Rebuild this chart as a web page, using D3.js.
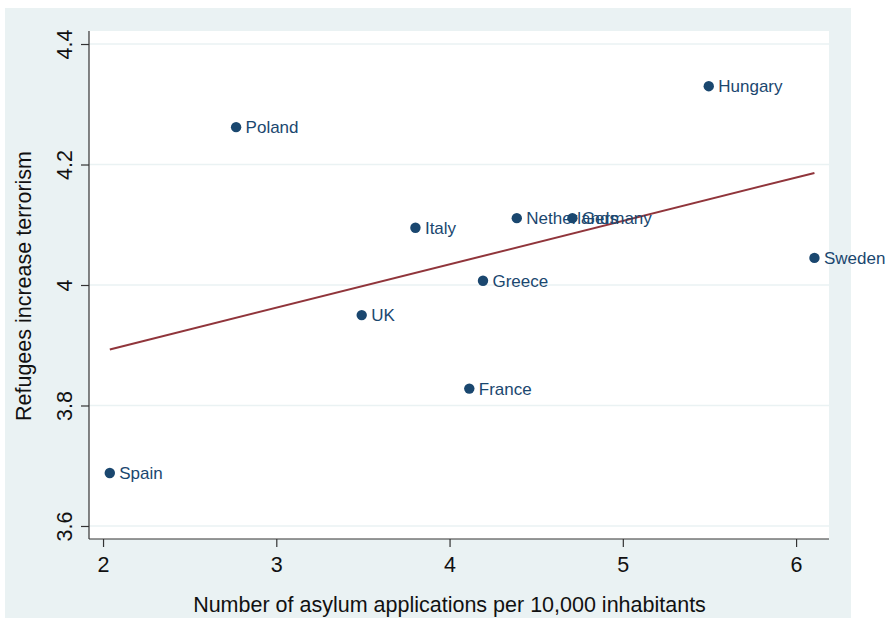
<!DOCTYPE html>
<html>
<head>
<meta charset="utf-8">
<script src="https://cdn.jsdelivr.net/npm/d3@7"></script>
<style>
  html, body { margin: 0; padding: 0; background: #ffffff; }
  svg { display: block; }
  text { font-family: "Liberation Sans", Arial, sans-serif; }
</style>
</head>
<body>
<svg id="chart" width="887" height="620"></svg>
<script>
// ---- data ----
const countries = ["Poland", "Hungary", "Italy", "Netherlands", "Germany", "Greece", "UK", "France", "Spain", "Sweden"];
const asylumApps = [2.768, 5.496, 3.803, 4.388, 4.709, 4.193, 3.493, 4.114, 2.039, 6.106];
const terrorism  = [4.262, 4.330, 4.095, 4.111, 4.111, 4.007, 3.950, 3.828, 3.688, 4.045];
const fitX = [2.039, 6.106];
const fitY = [3.893, 4.186];
const xTicks = [2, 3, 4, 5, 6];
const yTicks = [3.6, 3.8, 4.0, 4.2, 4.4];
const yTickLabels = ["3.6", "3.8", "4", "4.2", "4.4"];
const xTitle = "Number of asylum applications per 10,000 inhabitants";
const yTitle = "Refugees increase terrorism";

// ---- layout ----
const svg = d3.select("#chart");
const bg = "#eaf2f3";
const navy = "#1a476f";
const maroon = "#90353b";
const plot = { left: 89, right: 829, top: 31, bottom: 539 };

svg.append("rect").attr("x", 5).attr("y", 8).attr("width", 846).attr("height", 610).attr("fill", bg);
svg.append("rect").attr("x", plot.left).attr("y", plot.top)
  .attr("width", plot.right - plot.left).attr("height", plot.bottom - plot.top).attr("fill", "#ffffff");

const x = d3.scaleLinear().domain([1.919, 6.190]).range([plot.left, plot.right]);
const y = d3.scaleLinear().domain([3.5784, 4.4216]).range([plot.bottom, plot.top]);

// grid lines
svg.append("g").selectAll("line").data(yTicks).join("line")
  .attr("x1", plot.left).attr("x2", plot.right)
  .attr("y1", d => y(d)).attr("y2", d => y(d))
  .attr("stroke", bg).attr("stroke-width", 1.6);

// y axis
const yAxis = d3.axisLeft(y).tickValues(yTicks).tickSize(8).tickFormat((d, i) => yTickLabels[i]);
const gy = svg.append("g").attr("transform", `translate(${plot.left},0)`).call(yAxis);
gy.select(".domain").attr("d", `M0,${plot.top}V${plot.bottom}`).attr("stroke", "#333").attr("stroke-width", 1.2);
gy.selectAll(".tick line").attr("stroke", "#333").attr("stroke-width", 1.2);
gy.selectAll(".tick text")
  .attr("x", null).attr("dy", null)
  .attr("transform", "translate(-17,0) rotate(-90)")
  .attr("text-anchor", "middle")
  .attr("font-size", 21.5).attr("fill", "#111")
  .attr("font-family", "Liberation Sans, Arial, sans-serif");

// x axis
const xAxis = d3.axisBottom(x).tickValues(xTicks).tickSize(8).tickFormat(d3.format("d"));
const gx = svg.append("g").attr("transform", `translate(0,${plot.bottom})`).call(xAxis);
gx.select(".domain").attr("d", `M${plot.left},0H${plot.right}`).attr("stroke", "#333").attr("stroke-width", 1.2);
gx.selectAll(".tick line").attr("stroke", "#333").attr("stroke-width", 1.2);
gx.selectAll(".tick text")
  .attr("y", 33).attr("dy", null)
  .attr("font-size", 21.5).attr("fill", "#111")
  .attr("font-family", "Liberation Sans, Arial, sans-serif");

// axis titles
svg.append("text").attr("x", 449.5).attr("y", 612).attr("text-anchor", "middle")
  .attr("font-size", 21.5).attr("fill", "#111").text(xTitle);
svg.append("text").attr("transform", "translate(31,286) rotate(-90)").attr("text-anchor", "middle")
  .attr("font-size", 21.5).attr("fill", "#111").text(yTitle);

// fit line
const fitData = fitX.map((d, i) => [d, fitY[i]]);
svg.append("path").datum(fitData)
  .attr("d", d3.line().x(d => x(d[0])).y(d => y(d[1])))
  .attr("fill", "none").attr("stroke", maroon).attr("stroke-width", 2);

// points
const pts = countries.map((c, i) => ({ c, x: asylumApps[i], y: terrorism[i] }));
svg.append("g").selectAll("circle").data(pts).join("circle")
  .attr("cx", d => x(d.x)).attr("cy", d => y(d.y)).attr("r", 5.2).attr("fill", navy);
svg.append("g").selectAll("text").data(pts).join("text")
  .attr("x", d => x(d.x) + 9.5).attr("y", d => y(d.y) + 6.2)
  .attr("font-size", 17).attr("fill", navy).text(d => d.c);
</script>
</body>
</html>
